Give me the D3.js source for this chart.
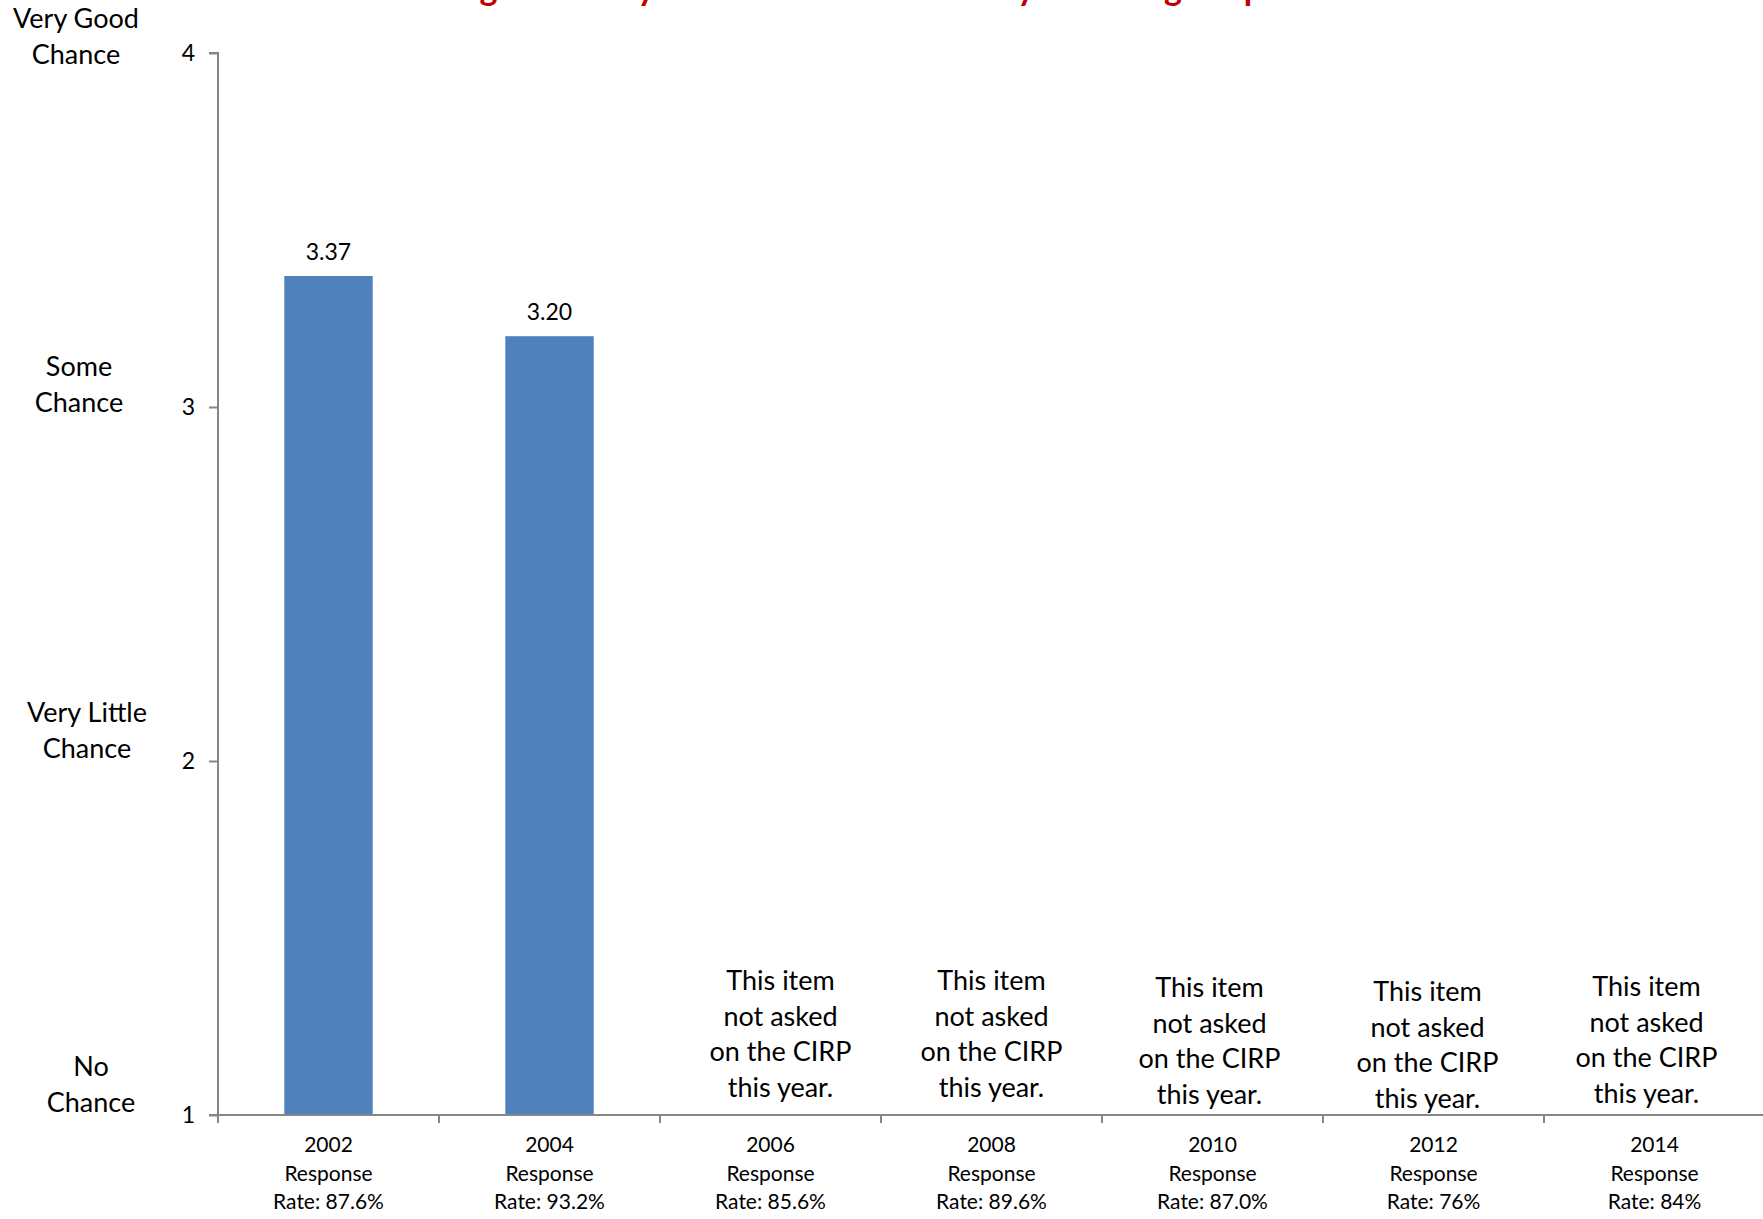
<!DOCTYPE html>
<html>
<head>
<meta charset="utf-8">
<script src="https://cdn.jsdelivr.net/npm/d3@7"></script>
<style>
  html, body { margin: 0; padding: 0; background: #ffffff; overflow: hidden; }
  svg { display: block; font-family: Lato, "Open Sans", sans-serif; }
</style>
</head>
<body>
<svg id="chart" width="1763" height="1219"></svg>
<script>
// ---- data ----
const titleText = "Average chance you will be satisfied with your college experience";
const years = ["2002", "2004", "2006", "2008", "2010", "2012", "2014"];
const responseRates = ["87.6%", "93.2%", "85.6%", "89.6%", "87.0%", "76%", "84%"];
const values = [3.37, 3.20, null, null, null, null, null];
const yTickValues = [1, 2, 3, 4];
const yCategoryLabels = [["No", "Chance"], ["Very Little", "Chance"], ["Some", "Chance"], ["Very Good", "Chance"]];
const missingNote = ["This item", "not asked", "on the CIRP", "this year."];

// ---- layout ----
const W = 1763, H = 1219;
const plot = { left: 218, right: 1765, top: 53, bottom: 1115 };
const catLabelLayout = [ {x: 91, dy: -3}, {x: 87, dy: -3}, {x: 79, dy: 5}, {x: 76, dy: 11} ];
const noteOffsets = [0, 0, 10, 0, -3, -6, -8];
const noteTop = [0, 0, 990, 990, 997, 1001, 996];

const svg = d3.select("#chart");

const x = d3.scaleBand().domain(years).range([plot.left, plot.right])
  .paddingInner(0.6).paddingOuter(0.3);
const y = d3.scaleLinear().domain([1, 4]).range([plot.bottom, plot.top]);

const axisColor = "#868686";

// title (mostly cut off at top, as in the reference)
svg.append("text")
  .attr("x", 883).attr("y", 0)
  .attr("text-anchor", "middle")
  .attr("font-size", 34).attr("font-weight", "bold")
  .attr("fill", "#C00000")
  .text(titleText);

// bars
const barData = years.map((yr, i) => ({ year: yr, value: values[i], i }));
svg.append("g").selectAll("rect")
  .data(barData.filter(d => d.value != null))
  .join("rect")
  .attr("x", d => x(d.year))
  .attr("width", x.bandwidth())
  .attr("y", d => y(d.value))
  .attr("height", d => y(1) - y(d.value))
  .attr("fill", "#4F81BD");

// value labels
svg.append("g").selectAll("text")
  .data(barData.filter(d => d.value != null))
  .join("text")
  .attr("x", d => x(d.year) + x.bandwidth() / 2)
  .attr("y", d => y(d.value) - 16)
  .attr("text-anchor", "middle")
  .attr("font-size", 23)
  .attr("fill", "#000")
  .text(d => d3.format(".2f")(d.value));

// y axis
const yAxis = d3.axisLeft(y).tickValues(yTickValues).tickSize(9).tickPadding(14)
  .tickFormat(d3.format("d"));
const gy = svg.append("g").attr("transform", `translate(${plot.left},0)`).call(yAxis);
gy.select(".domain").attr("stroke", axisColor).attr("stroke-width", 2)
  .attr("d", `M-9,${plot.top}H0V${plot.bottom}`);
gy.selectAll(".tick line").attr("stroke", axisColor).attr("stroke-width", 2);
gy.selectAll(".tick text").attr("font-size", 23).attr("fill", "#000")
  .attr("font-family", "Lato, sans-serif");

// y category labels
yTickValues.forEach((v, i) => {
  const lines = yCategoryLabels[i];
  const L = catLabelLayout[i];
  const t = svg.append("text")
    .attr("text-anchor", "middle")
    .attr("font-size", 27)
    .attr("fill", "#000");
  lines.forEach((ln, k) => {
    t.append("tspan")
      .attr("x", L.x)
      .attr("y", y(v) + L.dy - (lines.length - 1 - k) * 36)
      .text(ln);
  });
});

// x axis line and boundary ticks
const gx = svg.append("g");
gx.append("line")
  .attr("x1", plot.left - 9).attr("x2", plot.right)
  .attr("y1", plot.bottom).attr("y2", plot.bottom)
  .attr("stroke", axisColor).attr("stroke-width", 2);
const boundaries = years.map(yr => x(yr) - x.step() * x.paddingInner() / 2)
  .concat([x(years[years.length - 1]) + x.bandwidth() + x.step() * x.paddingInner() / 2]);
gx.selectAll("line.tick").data(boundaries).join("line")
  .attr("class", "tick")
  .attr("x1", d => d).attr("x2", d => d)
  .attr("y1", plot.bottom).attr("y2", plot.bottom + 8)
  .attr("stroke", axisColor).attr("stroke-width", 2);

// x labels
const xl = gx.selectAll("text.xl").data(years).join("text")
  .attr("class", "xl")
  .attr("text-anchor", "middle")
  .attr("font-size", 21)
  .attr("fill", "#000");
xl.each(function(yr, i) {
  const cx = x(yr) + x.bandwidth() / 2;
  const lines = [yr, "Response", "Rate: " + responseRates[i]];
  lines.forEach((ln, k) => {
    d3.select(this).append("tspan").attr("x", cx).attr("y", 1152 + k * 28.5).text(ln);
  });
});

// notes for missing years
barData.filter(d => d.value == null).forEach(d => {
  const cx = x(d.year) + x.bandwidth() / 2 + noteOffsets[d.i];
  const t = svg.append("text").attr("text-anchor", "middle")
    .attr("font-size", 27).attr("fill", "#000");
  missingNote.forEach((ln, k) => {
    t.append("tspan").attr("x", cx).attr("y", noteTop[d.i] + k * 35.5).text(ln);
  });
});
</script>
</body>
</html>
